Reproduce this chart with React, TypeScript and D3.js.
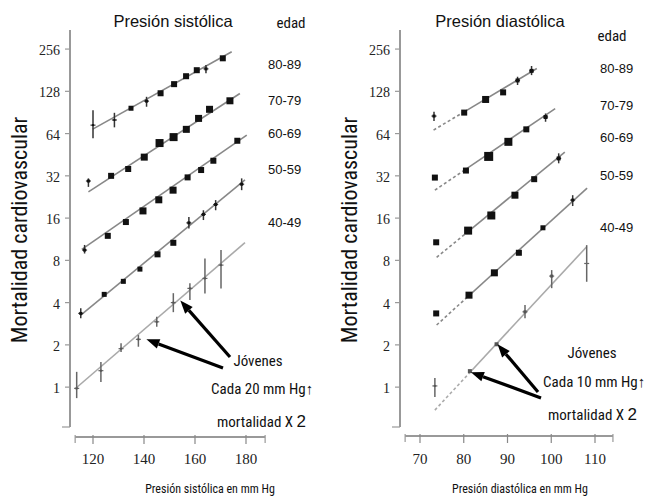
import React from 'react';
import * as d3 from 'd3';

const W = 647;
const H = 497;

const ageGroups = ['80-89', '70-79', '60-69', '50-59', '40-49'];
const yTickValues = [1, 2, 4, 8, 16, 32, 64, 128, 256];
const sysTicks = [120, 140, 160, 180];
const diaTicks = [70, 80, 90, 100, 110];

// ---- Systolic panel (rows follow ageGroups) ----
const sysX = [
  [120, 128.4, 134.9, 141, 146.5, 151.8, 156.5, 160.7, 164.3, 170.9],
  [118.2, 127.1, 133.8, 140.1, 146.1, 151.6, 156.6, 161.4, 165.7, 173.7],
  [116.7, 125.8, 132.9, 139.6, 145.8, 151.4, 157.1, 162.4, 167.2, 176.6],
  [115.2, 124.4, 131.9, 138.4, 145.3, 151.5, 157.6, 163.3, 168.1, 178.3],
  [113.6, 123.1, 131, 137.8, 145, 151.5, 158, 163.9, 170.2],
];
const sysY = [
  [73.5, 80, 97, 109, 124, 144, 164, 181, 185, 220],
  [29.4, 32, 35.8, 43.5, 54.8, 60.4, 68.6, 82.1, 95.3, 109.6],
  [9.47, 11.96, 15, 18, 21.6, 25.3, 31.2, 35.2, 41, 56.9],
  [3.35, 4.58, 5.67, 6.93, 8.83, 10.67, 14.8, 17, 20, 27.9],
  [0.98, 1.31, 1.88, 2.19, 2.92, 4.0, 5.05, 5.95, 7.4],
];
const sysLo = [
  [59.4, 70.9, 0, 99.4, 0, 0, 0, 0, 172, 0],
  [26.7, 0, 0, 0, 0, 0, 0, 0, 0, 0],
  [8.95, 0, 0, 0, 0, 0, 0, 0, 0, 0],
  [3.09, 0, 0, 0, 0, 0, 13.5, 15.5, 18.2, 25.3],
  [0.835, 1.09, 1.78, 1.94, 2.69, 3.42, 4.17, 4.65, 5.05],
];
const sysHi = [
  [94, 90, 0, 117, 0, 0, 0, 0, 197, 0],
  [30.7, 0, 0, 0, 0, 0, 0, 0, 0, 0],
  [10.3, 0, 0, 0, 0, 0, 0, 0, 0, 0],
  [3.64, 0, 0, 0, 0, 0, 16.3, 18.2, 21.5, 30.7],
  [1.285, 1.51, 2.05, 2.35, 3.17, 4.67, 5.5, 8.26, 9.47],
];
const sysSize = [
  [2, 2, 5, 3, 6, 6, 6, 6, 3, 6],
  [3, 6, 6, 7, 8, 8, 7, 7, 7, 7],
  [3, 6, 6, 7, 7, 7, 6, 6, 6, 6],
  [3, 5, 5, 5, 6, 6, 3, 3, 3, 3],
  [2, 2, 2, 2, 2, 2, 2, 2, 2],
];
const sysLineX0 = [119.9, 118.2, 115.6, 115.2, 112.9];
const sysLineY0 = [68.9, 24.6, 9.58, 3.26, 0.97];
const sysLineX1 = [174.4, 177.6, 180.3, 179.6, 179.6];
const sysLineY1 = [245, 123.6, 62.4, 29.9, 10.7];

// ---- Diastolic panel ----
const diaX = [
  [73.2, 80.1, 85, 89, 92.3, 95.5],
  [73.4, 80.5, 85.7, 90.2, 94.3, 98.7],
  [73.7, 81, 86.3, 91.7, 96.1, 101.7],
  [73.7, 81.2, 87, 92.6, 98.1, 104.9],
  [73.4, 81.4, 87.5, 94, 100.1, 108.1],
];
const diaY = [
  [85.3, 90.3, 112, 125.8, 153, 179],
  [31.1, 34.9, 44, 55.9, 68.6, 84],
  [10.76, 13.03, 16.7, 23.3, 30.3, 42.6],
  [3.35, 4.52, 6.52, 9.06, 13.65, 21.5],
  [1.02, 1.3, 2.02, 3.44, 6.18, 7.6],
];
const diaLo = [
  [78.8, 0, 0, 0, 142, 167],
  [0, 0, 0, 0, 0, 77.7],
  [0, 0, 0, 0, 0, 39.3],
  [0, 0, 0, 0, 0, 19.5],
  [0.85, 0, 0, 3.1, 5.07, 5.63],
];
const diaHi = [
  [91.5, 0, 0, 0, 162.6, 194],
  [0, 0, 0, 0, 0, 89],
  [0, 0, 0, 0, 0, 46.3],
  [0, 0, 0, 0, 0, 23.3],
  [1.16, 0, 0, 3.84, 6.82, 10.27],
];
const diaSize = [
  [3, 6, 7, 6, 4, 4],
  [6, 6, 9, 8, 6, 4],
  [6, 8, 8, 7, 6, 4],
  [6, 7, 7, 6, 5, 3],
  [2, 4, 4, 3, 3, 0],
];
const diaLineX0 = [73.1, 73.4, 73.8, 73.8, 73.4];
const diaLineY0 = [67.8, 25.3, 8.4, 2.77, 0.686];
const diaLineX1 = [96.7, 100.9, 103.1, 108.2, 108.1];
const diaLineY1 = [186, 96.5, 47.2, 26.2, 10.0];

const NARROW = "Liberation Sans Narrow, Arial Narrow, Roboto Condensed, sans-serif";
const SANS = "Liberation Sans, Arial, sans-serif";
const SERIF = "Liberation Serif, Times New Roman, DejaVu Serif, serif";

const yScale = d3.scaleLog().base(2).domain([0.52, 350]).range([427, 30]);

type PanelProps = {
  xScale: d3.ScaleLinear<number, number>;
  axisX: number;
  xAxisY: number;
  xMin: number;
  xMax: number;
  ticks: number[];
  X: number[][];
  Y: number[][];
  Lo: number[][];
  Hi: number[][];
  S: number[][];
  lx0: number[];
  ly0: number[];
  lx1: number[];
  ly1: number[];
  dashedStart: boolean;
};

function lineY(x0: number, y0: number, x1: number, y1: number, x: number) {
  const t = (x - x0) / (x1 - x0);
  return Math.pow(2, Math.log2(y0) + t * (Math.log2(y1) - Math.log2(y0)));
}

function Panel(p: PanelProps) {
  const { xScale } = p;
  const lineGen = d3
    .line<[number, number]>()
    .x((d) => xScale(d[0]))
    .y((d) => yScale(d[1]));
  return (
    <g>
      <line x1={p.axisX} x2={p.axisX} y1={30} y2={yScale(0.52)} stroke="#999" strokeWidth={2} />
      {yTickValues.map((v) => (
        <g key={v}>
          <line x1={p.axisX - 5} x2={p.axisX} y1={yScale(v)} y2={yScale(v)} stroke="#999" strokeWidth={1.2} />
          <text
            x={p.axisX - 10}
            y={yScale(v) + 6}
            textAnchor="end"
            style={{ fontFamily: SERIF, fontSize: 14 }}
            fill="#222"
          >
            {v}
          </text>
        </g>
      ))}
      <line x1={p.axisX - 8} x2={p.axisX} y1={yScale(0.52)} y2={yScale(0.52)} stroke="#999" strokeWidth={1.2} />
      <line x1={xScale(p.xMin)} x2={xScale(p.xMax)} y1={p.xAxisY} y2={p.xAxisY} stroke="#999" strokeWidth={2} />
      {[p.xMin, p.xMax].map((v) => (
        <line key={'e' + v} x1={xScale(v)} x2={xScale(v)} y1={p.xAxisY - 2} y2={p.xAxisY + 6} stroke="#999" strokeWidth={1.2} />
      ))}
      {p.ticks.map((v) => (
        <g key={v}>
          <line x1={xScale(v)} x2={xScale(v)} y1={p.xAxisY - 2} y2={p.xAxisY + 7} stroke="#888" strokeWidth={1.2} />
          <text x={xScale(v)} y={464} textAnchor="middle" style={{ fontFamily: SERIF, fontSize: 15 }} fill="#222">
            {v}
          </text>
        </g>
      ))}
      {p.lx0.map((x0, i) => {
        const young = i === 4;
        const col = young ? '#aaa' : '#888';
        if (p.dashedStart) {
          const xm = p.X[i][1];
          const ym = lineY(x0, p.ly0[i], p.lx1[i], p.ly1[i], xm);
          return (
            <g key={'l' + i}>
              <path d={lineGen([[x0, p.ly0[i]], [xm, ym]]) || ''} stroke={col} strokeWidth={1.6} strokeDasharray="3,2.5" fill="none" />
              <path d={lineGen([[xm, ym], [p.lx1[i], p.ly1[i]]]) || ''} stroke={col} strokeWidth={1.6} fill="none" />
            </g>
          );
        }
        return (
          <path
            key={'l' + i}
            d={lineGen([[x0, p.ly0[i]], [p.lx1[i], p.ly1[i]]]) || ''}
            stroke={col}
            strokeWidth={1.6}
            fill="none"
          />
        );
      })}
      {p.X.map((xs, i) =>
        xs.map((xv, j) => {
          const cx = xScale(xv);
          const cy = yScale(p.Y[i][j]);
          const s = p.S[i][j];
          const young = i === 4;
          const lo = p.Lo[i][j];
          const hi = p.Hi[i][j];
          return (
            <g key={i + '-' + j}>
              {lo > 0 && (
                <line x1={cx} x2={cx} y1={yScale(lo)} y2={yScale(hi)} stroke={young ? '#666' : '#333'} strokeWidth={1.5} />
              )}
              {lo > 0 && (
                <line x1={cx - 2.5} x2={cx + 2.5} y1={cy} y2={cy} stroke={young ? '#666' : '#333'} strokeWidth={1.2} />
              )}
              {s > 0 && (
                <rect x={cx - s / 2} y={cy - s / 2} width={s} height={s} fill={young ? '#555' : '#111'} />
              )}
            </g>
          );
        })
      )}
    </g>
  );
}

function Arrow({ x1, y1, x2, y2 }: { x1: number; y1: number; x2: number; y2: number }) {
  const ang = Math.atan2(y2 - y1, x2 - x1);
  const L = 13;
  const Wd = 5;
  const bx = x2 - L * Math.cos(ang);
  const by = y2 - L * Math.sin(ang);
  const px = -Math.sin(ang) * Wd;
  const py = Math.cos(ang) * Wd;
  return (
    <g>
      <line x1={x1} y1={y1} x2={bx} y2={by} stroke="#000" strokeWidth={3.2} />
      <polygon points={`${x2},${y2} ${bx + px},${by + py} ${bx - px},${by - py}`} fill="#000" />
    </g>
  );
}

export default function App() {
  const xL = d3.scaleLinear().domain([120, 180]).range([93, 246]);
  const xR = d3.scaleLinear().domain([70, 110]).range([420, 595]);

  const sysAgeY = [69, 105, 138, 174, 227];
  const diaAgeY = [73, 110, 142, 180, 232];

  const lA = { x: xL(sysX[4][5]) + 7, y: yScale(sysY[4][5]) - 2 };
  const lB = { x: xL(sysX[4][3]) + 8, y: yScale(sysY[4][3]) };
  const rA = { x: xR(diaX[4][2]) + 1, y: yScale(diaY[4][2]) };
  const rB = { x: xR(diaX[4][1]) + 1, y: yScale(diaY[4][1]) + 1 };

  const narrow = { fontFamily: NARROW };
  const sans = { fontFamily: SANS };

  return (
    <svg width={W} height={H} style={{ position: 'absolute', left: 0, top: 0, background: '#fff' }}>
      <rect x={0} y={0} width={W} height={H} fill="#fff" />
      <Panel
        xScale={xL}
        axisX={70}
        xAxisY={437}
        xMin={113}
        xMax={187.5}
        ticks={sysTicks}
        X={sysX}
        Y={sysY}
        Lo={sysLo}
        Hi={sysHi}
        S={sysSize}
        lx0={sysLineX0}
        ly0={sysLineY0}
        lx1={sysLineX1}
        ly1={sysLineY1}
        dashedStart={false}
      />
      <Panel
        xScale={xR}
        axisX={400}
        xAxisY={436}
        xMin={66.6}
        xMax={114.1}
        ticks={diaTicks}
        X={diaX}
        Y={diaY}
        Lo={diaLo}
        Hi={diaHi}
        S={diaSize}
        lx0={diaLineX0}
        ly0={diaLineY0}
        lx1={diaLineX1}
        ly1={diaLineY1}
        dashedStart={true}
      />

      <text x={173} y={27} textAnchor="middle" style={{ ...sans, fontSize: 16.5 }} fill="#111">
        Presión sistólica
      </text>
      <text x={500} y={27} textAnchor="middle" style={{ ...sans, fontSize: 16.5 }} fill="#111">
        Presión diastólica
      </text>
      <text x={291} y={28} textAnchor="middle" style={{ ...narrow, fontSize: 15 }} fill="#111">
        edad
      </text>
      <text x={612} y={41} textAnchor="middle" style={{ ...narrow, fontSize: 15 }} fill="#111">
        edad
      </text>
      {ageGroups.map((a, i) => (
        <g key={a}>
          <text x={268} y={sysAgeY[i]} style={{ ...sans, fontSize: 13 }} fill="#111">
            {a}
          </text>
          <text x={600} y={diaAgeY[i]} style={{ ...sans, fontSize: 13 }} fill="#111">
            {a}
          </text>
        </g>
      ))}

      <text transform="translate(27,230) rotate(-90)" textAnchor="middle" style={{ ...narrow, fontSize: 22 }} fill="#111">
        Mortalidad cardiovascular
      </text>
      <text transform="translate(357,230) rotate(-90)" textAnchor="middle" style={{ ...narrow, fontSize: 22 }} fill="#111">
        Mortalidad cardiovascular
      </text>

      <text x={210} y={493} textAnchor="middle" style={{ ...narrow, fontSize: 12 }} fill="#111">
        Presión sistólica en mm Hg
      </text>
      <text x={520} y={493} textAnchor="middle" style={{ ...narrow, fontSize: 12 }} fill="#111">
        Presión diastólica en mm Hg
      </text>

      <Arrow x1={230} y1={357} x2={lA.x} y2={lA.y} />
      <Arrow x1={223} y1={368} x2={lB.x} y2={lB.y} />
      <text x={258} y={366} textAnchor="middle" style={{ ...narrow, fontSize: 15 }} fill="#111">
        Jóvenes
      </text>
      <text x={211} y={394} style={{ ...narrow, fontSize: 15 }} fill="#111">
        Cada 20 mm Hg↑
      </text>
      <text x={217} y={427} style={{ ...narrow, fontSize: 15 }} fill="#111">
        mortalidad X <tspan style={{ ...sans, fontSize: 17 }}>2</tspan>
      </text>

      <Arrow x1={538} y1={392} x2={rA.x} y2={rA.y} />
      <Arrow x1={541} y1={398} x2={rB.x} y2={rB.y} />
      <text x={592} y={358} textAnchor="middle" style={{ ...narrow, fontSize: 15 }} fill="#111">
        Jóvenes
      </text>
      <text x={543} y={387} style={{ ...narrow, fontSize: 15 }} fill="#111">
        Cada 10 mm Hg↑
      </text>
      <text x={548} y={420} style={{ ...narrow, fontSize: 15 }} fill="#111">
        mortalidad X <tspan style={{ ...sans, fontSize: 17 }}>2</tspan>
      </text>
    </svg>
  );
}
